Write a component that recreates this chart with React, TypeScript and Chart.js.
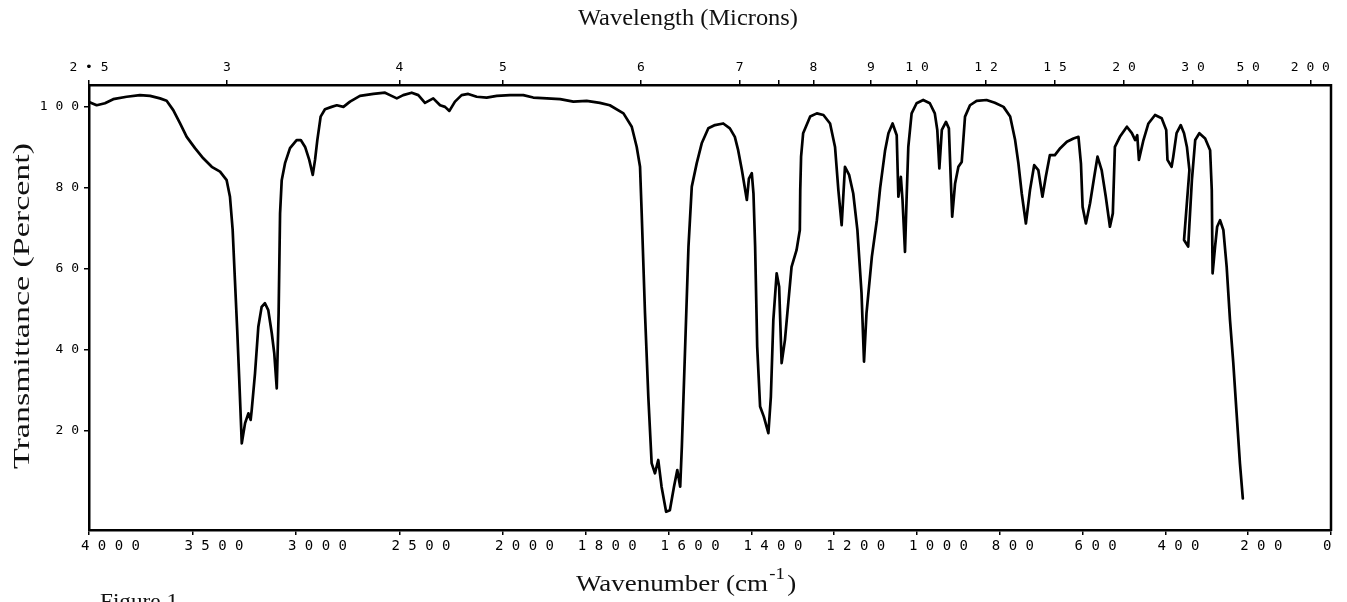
import React, { useEffect, useRef } from 'react';
import { Chart, LineController, LineElement, PointElement, LinearScale } from 'chart.js';

// Infrared spectrum: wavenumber (cm-1) and transmittance (%)
const WAVENUMBER = [
  4000, 3963, 3923, 3883, 3818, 3754, 3705, 3657, 3625, 3593, 3560, 3528, 3488, 3448, 3407, 3367,
  3335, 3319, 3306, 3295, 3284, 3274, 3262, 3246, 3230, 3219, 3214, 3198, 3182, 3166, 3150, 3134,
  3117, 3105, 3093, 3084, 3077, 3069, 3053, 3029, 2997, 2977, 2956, 2936, 2919, 2908, 2897, 2881,
  2860, 2828, 2803, 2771, 2739, 2691, 2626, 2570, 2546, 2513, 2482, 2441, 2409, 2377, 2337, 2304,
  2280, 2259, 2232, 2200, 2168, 2127, 2079, 2030, 1983, 1951, 1927, 1894, 1862, 1830, 1798, 1766,
  1742, 1709, 1689, 1677, 1669, 1665, 1657, 1649, 1641, 1633, 1625, 1617, 1606, 1597, 1587, 1579,
  1572, 1568, 1560, 1552, 1544, 1532, 1520, 1504, 1488, 1468, 1452, 1440, 1432, 1423, 1411, 1406,
  1399, 1395, 1391, 1386, 1379, 1370, 1359, 1353, 1347, 1339, 1333, 1327, 1319, 1311, 1303, 1291,
  1283, 1282, 1280, 1275, 1258, 1242, 1226, 1210, 1198, 1190, 1182, 1174, 1164, 1154, 1144, 1134,
  1128, 1122, 1109, 1097, 1089, 1077, 1069, 1059, 1049, 1045, 1039, 1035, 1029, 1025, 1021, 1013,
  1001, 985, 969, 957, 951, 946, 940, 930, 923, 919, 915, 908, 900, 892, 884, 872,
  856, 832, 812, 791, 775, 763, 755, 747, 737, 727, 717, 707, 697, 689, 679, 667,
  654, 638, 622, 610, 604, 600, 592, 582, 572, 564, 554, 544, 534, 527, 522, 510,
  493, 481, 473, 468, 464, 453, 441, 425, 409, 398, 395, 385, 381, 373, 363, 355,
  348, 342, 355, 345, 336, 328, 318, 304, 292, 288, 286, 280, 275, 268, 260, 252,
  244, 236, 228, 220, 213,
];

const TRANSMITTANCE = [
  101.1, 100.3, 100.8, 101.8, 102.4, 102.8, 102.6, 102.0, 101.4, 99.1, 95.8, 92.5, 89.7, 87.2, 85.1, 83.9,
  81.8, 77.7, 69.5, 57.1, 44.8, 32.4, 16.8, 21.8, 24.2, 22.6, 25.0, 34.1, 45.6, 50.5, 51.4, 49.7,
  44.0, 39.0, 30.4, 48.9, 73.6, 81.8, 86.0, 89.7, 91.7, 91.7, 90.0, 86.8, 83.1, 86.8, 91.7, 97.5,
  99.3, 99.9, 100.3, 99.9, 101.2, 102.6, 103.1, 103.4, 102.8, 102.0, 102.8, 103.4, 102.8, 100.9, 102.0, 100.3,
  99.9, 98.9, 101.2, 102.8, 103.1, 102.4, 102.2, 102.6, 102.8, 102.8, 102.2, 102.0, 101.8, 101.2, 101.4, 100.9,
  100.3, 98.3, 95.0, 90.0, 85.1, 73.6, 48.9, 28.3, 11.9, 9.4, 12.7, 6.1, -0.1, 0.3, 6.1, 10.2,
  6.1, 16.0, 40.7, 65.4, 80.2, 86.0, 90.9, 94.6, 95.4, 95.8, 94.6, 92.5, 89.2, 84.3, 76.9, 82.2,
  83.5, 78.5, 65.4, 40.7, 25.9, 23.4, 19.3, 28.3, 47.3, 58.8, 55.5, 36.6, 42.3, 51.4, 60.4, 64.5,
  69.5, 79.4, 87.6, 93.4, 97.5, 98.3, 97.9, 95.8, 90.0, 79.4, 70.7, 85.1, 83.1, 78.5, 69.5, 53.9,
  37.0, 48.9, 62.9, 71.9, 79.9, 89.2, 93.4, 95.8, 92.9, 77.7, 82.6, 76.9, 64.1, 77.7, 90.0, 98.3,
  100.8, 101.6, 100.8, 98.3, 94.2, 84.7, 94.2, 96.2, 94.6, 83.5, 72.8, 81.0, 85.1, 86.3, 97.5, 100.3,
  101.4, 101.6, 100.9, 99.9, 97.5, 91.7, 85.9, 78.5, 71.1, 79.4, 85.5, 84.3, 77.7, 82.6, 88.0, 88.0,
  89.7, 91.3, 92.1, 92.5, 85.9, 75.2, 71.1, 76.1, 82.6, 87.6, 84.3, 77.7, 70.3, 73.6, 90.0, 92.5,
  95.0, 93.4, 91.7, 92.9, 86.8, 91.7, 95.8, 97.9, 97.1, 94.2, 86.8, 85.1, 87.6, 93.4, 95.4, 93.4,
  90.0, 84.3, 67.0, 65.4, 81.8, 91.7, 93.4, 92.1, 89.2, 79.4, 58.8, 65.4, 70.3, 71.9, 69.5, 60.4,
  47.3, 36.6, 24.2, 11.9, 3.2,
];

const WAVENUMBER_TICKS = [4000, 3500, 3000, 2500, 2000, 1800, 1600, 1400, 1200, 1000, 800, 600, 400, 200, 0];
const MICRON_TICKS = [2.5, 3, 4, 5, 6, 7, 7.5, 8, 9, 10, 12, 15, 20, 30, 50, 200];
const MICRON_LABELS = ['2•5', '3', '4', '5', '6', '7', '', '8', '9', '10', '12', '15', '20', '30', '50', '200'];
const PERCENT_TICKS = [20, 40, 60, 80, 100];

const spaced = (s: string) => s.split('').join(' ');

// IR chart paper: 4000-2000 cm-1 at one scale, 2000-0 cm-1 at double scale
const toFraction = (wn: number) => {
  const u = wn >= 2000 ? 4000 - wn : 2000 + 2 * (2000 - wn);
  return u / 6000;
};
const fromFraction = (f: number) => {
  const u = f * 6000;
  return u <= 2000 ? 4000 - u : 2000 - (u - 2000) / 2;
};

class WavenumberScale extends LinearScale {
  static id = 'wavenumber';
  static defaults = LinearScale.defaults;
  getPixelForValue(value: number) {
    return this.getPixelForDecimal(toFraction(value));
  }
  getValueForPixel(pixel: number) {
    return fromFraction(this.getDecimalForPixel(pixel));
  }
}

Chart.register(LineController, LineElement, PointElement, LinearScale, WavenumberScale as any);

const MONO = 'DejaVu Sans Mono';
const SERIF = 'Liberation Serif';

function fitText(ctx: CanvasRenderingContext2D, text: string, x: number, y: number, width: number, font: string, align: CanvasTextAlign) {
  ctx.save();
  ctx.font = font;
  const w = ctx.measureText(text).width;
  ctx.translate(x, y);
  ctx.scale(width / w, 1);
  ctx.textAlign = align;
  ctx.textBaseline = 'alphabetic';
  ctx.fillText(text, 0, 0);
  ctx.restore();
}

const decorPlugin = {
  id: 'decor',
  afterDraw(chart: any) {
    const { ctx, chartArea } = chart;
    ctx.save();
    ctx.strokeStyle = '#000';
    ctx.lineWidth = 2.5;
    ctx.beginPath();
    ctx.moveTo(chartArea.right, chartArea.top - 1);
    ctx.lineTo(chartArea.right, chartArea.bottom + 1);
    ctx.stroke();
    ctx.fillStyle = '#111';
    fitText(ctx, 'Wavelength (Microns)', 688, 25, 220, `23px "${SERIF}"`, 'center');
    // y title
    ctx.save();
    ctx.translate(29, 306);
    ctx.rotate(-Math.PI / 2);
    fitText(ctx, 'Transmittance (Percent)', 0, 0, 326, `23px "${SERIF}"`, 'center');
    ctx.restore();
    // x title with superscript
    ctx.save();
    ctx.font = `23px "${SERIF}"`;
    const main = 'Wavenumber (cm';
    const mw = ctx.measureText(main).width;
    const s = 192 / mw;
    ctx.translate(576, 591);
    ctx.scale(s, 1);
    ctx.textAlign = 'left';
    ctx.fillText(main, 0, 0);
    ctx.font = `16px "${SERIF}"`;
    ctx.fillText('-1', mw + 1, -12);
    const sw = ctx.measureText('-1').width;
    ctx.font = `23px "${SERIF}"`;
    ctx.fillText(')', mw + sw + 3, 0);
    ctx.restore();
    fitText(ctx, 'Figure 1', 100, 608, 78, `22px "${SERIF}"`, 'left');
    ctx.restore();
  },
};

export default function App() {
  const ref = useRef<HTMLCanvasElement | null>(null);
  useEffect(() => {
    if (!ref.current) return;
    const data = WAVENUMBER.map((x, i) => ({ x, y: TRANSMITTANCE[i] }));
    const tickFont = (size: number) => ({ family: MONO, size });
    const border = { display: true, color: '#000', width: 2.5 };
    const grid = { display: true, drawOnChartArea: false, drawTicks: true, tickLength: 5, color: '#000', lineWidth: 1.5 };
    const chart = new Chart(ref.current, {
      type: 'line',
      data: {
        datasets: [
          {
            data,
            borderColor: '#000',
            borderWidth: 2.7,
            pointRadius: 0,
            tension: 0,
            fill: false,
            borderJoinStyle: 'round',
            borderCapStyle: 'round',
          } as any,
        ],
      },
      options: {
        responsive: false,
        animation: false,
        devicePixelRatio: 1,
        layout: { padding: { left: 0, right: 16, top: 0, bottom: 0 } },
        plugins: { legend: { display: false }, tooltip: { enabled: false } } as any,
        scales: {
          x: {
            type: 'wavenumber' as any,
            position: 'bottom',
            min: 0,
            max: 4000,
            border,
            grid,
            afterBuildTicks: (axis: any) => {
              axis.ticks = WAVENUMBER_TICKS.map((v) => ({ value: v }));
            },
            afterFit: (axis: any) => {
              axis.height = 72;
            },
            ticks: {
              autoSkip: false,
              maxRotation: 0,
              minRotation: 0,
              align: 'start',
              labelOffset: -8,
              padding: 3,
              color: '#000',
              font: tickFont(14),
              callback: (_v: any, i: number) => spaced(String(WAVENUMBER_TICKS[i])),
            },
          } as any,
          x2: {
            type: 'wavenumber' as any,
            position: 'top',
            min: 0,
            max: 4000,
            border,
            grid,
            afterBuildTicks: (axis: any) => {
              axis.ticks = MICRON_TICKS.map((m) => ({ value: 10000 / m }));
            },
            afterFit: (axis: any) => {
              axis.height = 85;
            },
            ticks: {
              autoSkip: false,
              maxRotation: 0,
              minRotation: 0,
              padding: 5,
              color: '#000',
              font: tickFont(13),
              callback: (_v: any, i: number) => spaced(MICRON_LABELS[i]),
            },
          } as any,
          y: {
            type: 'linear',
            position: 'left',
            min: -4.6,
            max: 105.3,
            border,
            grid,
            afterBuildTicks: (axis: any) => {
              axis.ticks = PERCENT_TICKS.map((v) => ({ value: v }));
            },
            afterFit: (axis: any) => {
              axis.width = 89;
            },
            ticks: {
              padding: 5,
              color: '#000',
              font: tickFont(13),
              callback: (v: any) => spaced(String(v)),
            },
          } as any,
        },
      },
      plugins: [decorPlugin],
    });
    return () => chart.destroy();
  }, []);
  return (
    <canvas
      ref={ref}
      width={1347}
      height={602}
      style={{ position: 'fixed', left: 0, top: 0, width: '1347px', height: '602px', background: '#fff' }}
    />
  );
}
